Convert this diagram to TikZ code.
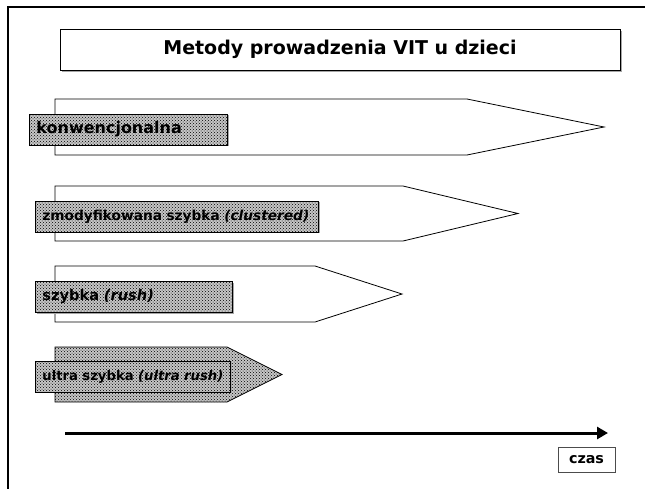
\documentclass[tikz,border=0pt]{standalone}
\usepackage{fontspec}
\setmainfont{DejaVu Sans}
\usetikzlibrary{patterns,shadows,arrows.meta}
\tikzset{
    TitleBlock/.style = {
        draw,
        line width=0.8pt,
        fill=white,
        drop shadow={shadow xshift=1.5pt, shadow yshift=-1.5pt, fill=gray!70, opacity=1},
        font=\bfseries\fontsize{19}{22}\selectfont,
        },
    MethodLabel/.style = {
        draw,
        line width=0.8pt,
        drop shadow={shadow xshift=1.2pt, shadow yshift=-1.2pt, fill=gray!70, opacity=1},
        preaction={fill=gray!45},
        pattern=crosshatch dots,
        pattern color=black,
        anchor=west,
        align=left,
        inner xsep=7pt,
        minimum height=31pt,
        },
    PhaseArrow/.style = {
        draw,
        line width=0.8pt,
        fill=white,
        },
    CzasBlock/.style = {
        draw=gray!60!black,
        line width=0.8pt,
        minimum width=57pt,
        minimum height=25pt,
        font=\bfseries\fontsize{14.3}{16}\selectfont,
        },
}

\begin{document}
\begin{tikzpicture}[
            x=1pt, y=-1pt,
            TimeAxis/.style={line width=3pt, -{Triangle[length=11pt, width=12pt]}},
            LabelFont/.style={font=\bfseries\fontsize{#1}{#1}\selectfont},
            ]
            \useasboundingbox (0,0) rectangle (645,488);
            % ramka slajdu
            \draw[line width=1.2pt] (8,500) -- (8,7) -- (660,7);

            \node [TitleBlock, minimum width=560pt, minimum height=41pt] (title) at (340,49.5) {Metody prowadzenia VIT u dzieci};

            % strzalki faz
            \draw[PhaseArrow] (55,99) -- (467,99) -- (604,127) -- (467,155) -- (55,155) -- cycle;
            \draw[PhaseArrow] (55,186) -- (403,186) -- (518,213.5) -- (403,241) -- (55,241) -- cycle;
            \draw[PhaseArrow] (55,266) -- (315,266) -- (402,294) -- (315,322) -- (55,322) -- cycle;
            \draw[PhaseArrow, preaction={fill=gray!45}, pattern=crosshatch dots, pattern color=black]
                (55,347) -- (227,347) -- (282,374.5) -- (227,402) -- (55,402) -- cycle;

            \node [MethodLabel, LabelFont=16, text width=184pt] (m0) at (29,129.5) {\mbox{konwencjonalna}};
            \node [MethodLabel, LabelFont=13.7, text width=269pt] (m1) at (35,216.5) {\mbox{zmodyfikowana szybka \textit{(clustered)}}};
            \node [MethodLabel, LabelFont=14.6, text width=183pt] (m2) at (35,297) {\mbox{szybka \textit{(rush)}}};
            \node [MethodLabel, LabelFont=13.2, text width=181pt] (m3) at (35,376.5) {\mbox{ultra szybka \textit{(ultra rush)}}};

            % os czasu
            \coordinate (t0) at (65,433);
            \coordinate (t1) at (608,433);
            \draw[TimeAxis] (t0) -- (t1);
            \node [CzasBlock] (czas) at (586.5,459.5) {czas};
        \end{tikzpicture}
\end{document}
